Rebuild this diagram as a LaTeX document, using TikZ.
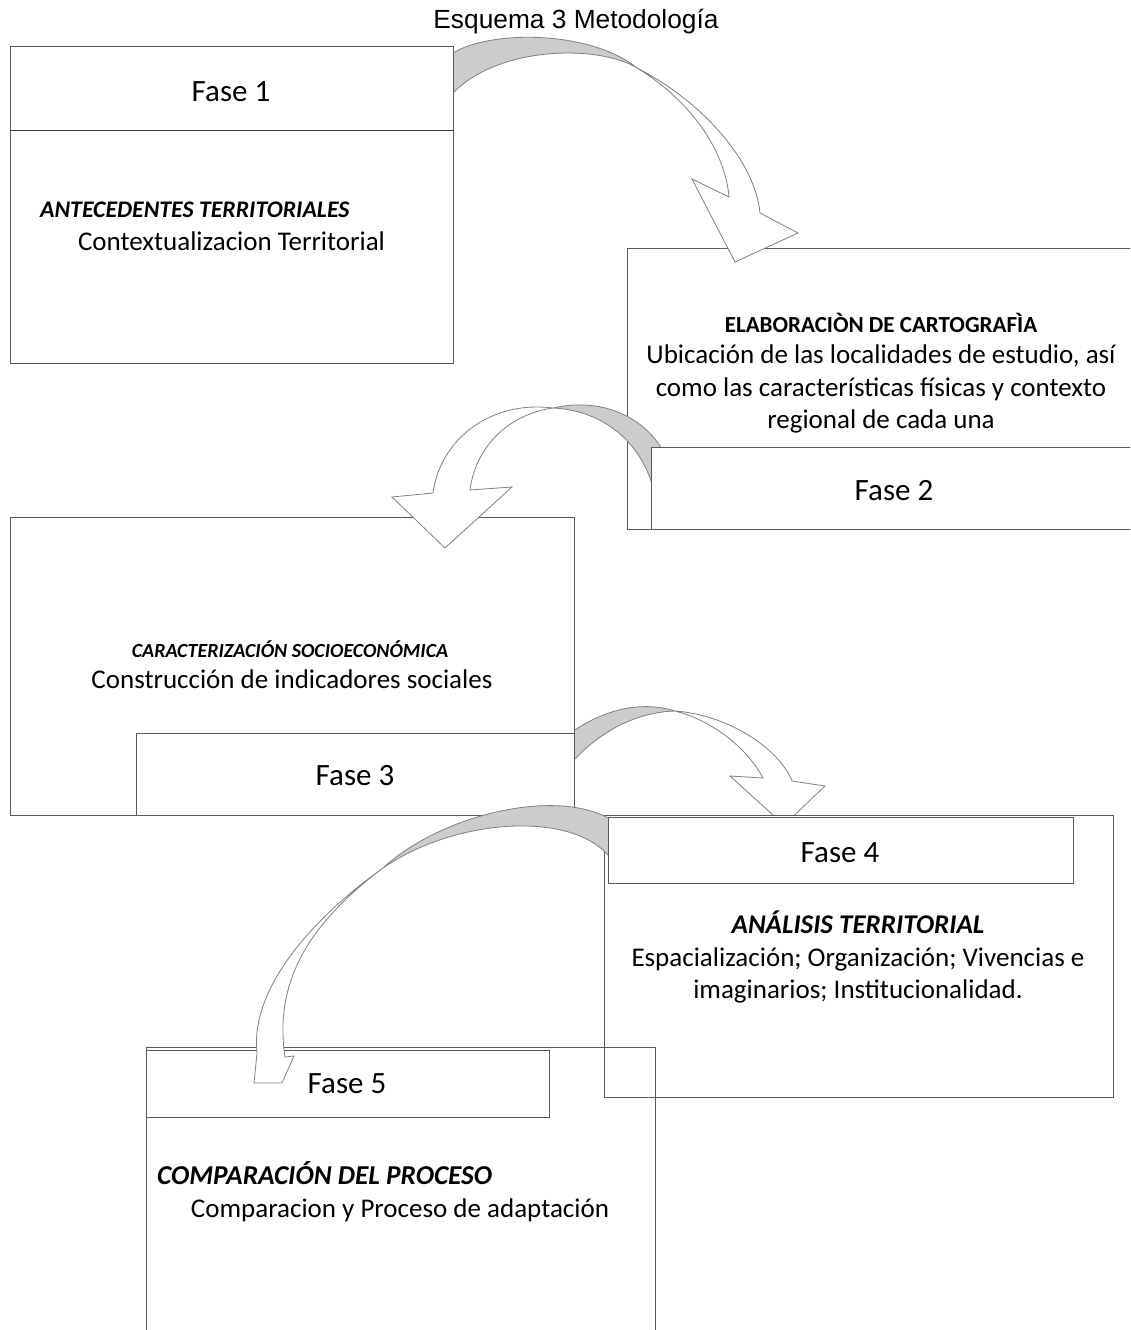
\documentclass[tikz,border=0pt]{standalone}
\usepackage{fontspec}
\setmainfont{Carlito}
\newfontfamily\titlefont{Liberation Sans}
\begin{document}
\begin{tikzpicture}[x=1pt,y=-1pt,
  boxline/.style={draw=black!65, line width=1pt, rectangle, inner sep=0pt},
  whitebox/.style={boxline, fill=white},
  arrowgray/.style={draw=black!50, line width=0.8pt, fill=black!20, line join=round},
  arrowwhite/.style={draw=black!50, line width=0.8pt, fill=white, line join=miter},
  fasetxt/.style={font=\fontsize{31}{36}\selectfont, anchor=base, inner sep=0pt},
  bodytxt/.style={font=\fontsize{27}{32}\selectfont, anchor=base, inner sep=0pt},
  headbi/.style={font=\fontsize{23.8}{28}\selectfont\bfseries\itshape, anchor=base west, inner sep=0pt},
  headb/.style={font=\fontsize{23}{26}\selectfont\bfseries, anchor=base, inner sep=0pt},
  headsmall/.style={font=\fontsize{20}{24}\selectfont\bfseries\itshape, anchor=base, inner sep=0pt},
  headbig/.style={font=\fontsize{27}{32}\selectfont\bfseries\itshape, anchor=base, inner sep=0pt},
  headbigw/.style={font=\fontsize{27.3}{32}\selectfont\bfseries\itshape, anchor=base west, inner sep=0pt},
  titletxt/.style={font=\titlefont\fontsize{26.3}{30}\selectfont, anchor=base, inner sep=0pt}
]
\useasboundingbox (0,0) rectangle (1130,1330);
\clip (0,0) rectangle (1130,1330);
\fill[white] (0,0) rectangle (1130,1330);

% Fase 2 outer box
\node[whitebox, minimum width=513pt, minimum height=281pt] (b2o) at (883.5,388.5) {};

% arrow 1
\path[arrowgray] (453,53) .. controls (490,30) and (590,30) .. (637,68)
  .. controls (600,45) and (500,45) .. (453,93) -- cycle;
\path[arrowwhite] (637,68) .. controls (700,100) and (755,160) .. (760,213)
  -- (798,233) -- (735,262) -- (692,179) -- (729,197)
  .. controls (725,150) and (690,100) .. (637,68) -- cycle;

% Fase 1 box
\node[whitebox, minimum width=443pt, minimum height=316pt] (b1) at (231.5,205) {};
\draw[draw=black!75, line width=1pt] (b1.west |- 0,130) -- (b1.east |- 0,130);

% arrow 3
\path[arrowgray] (565,737) .. controls (600,710) and (640,700) .. (675,711)
  .. controls (640,712) and (600,728) .. (565,770) -- cycle;
\path[arrowwhite] (675,711) .. controls (730,715) and (780,750) .. (792,781)
  -- (825,786) -- (784,825) -- (730,776) -- (763,778)
  .. controls (745,745) and (710,720) .. (675,711) -- cycle;

% Fase 4 outer box
\node[whitebox, minimum width=509pt, minimum height=282pt] (b4o) at (858.5,956) {};

% Fase 3 boxes
\node[whitebox, minimum width=564pt, minimum height=298pt] (b3o) at (292,666) {};
\node[boxline, minimum width=438pt, minimum height=82pt] (b3i) at (355,774) {};

% arrow 2
\path[arrowgray] (553,408) .. controls (610,395) and (655,425) .. (668,462)
  -- (656,500) .. controls (645,440) and (600,410) .. (553,408) -- cycle;
\path[arrowwhite] (553,408) .. controls (490,400) and (440,440) .. (433,493)
  -- (392,497) -- (445,548) -- (512,487) -- (470,490)
  .. controls (475,450) and (505,415) .. (553,408) -- cycle;

% Fase 2 inner box
\node[whitebox, minimum width=489pt, minimum height=82pt] (b2i) at (895.5,488) {};

% Fase 5 boxes
\node[boxline, minimum width=509pt, minimum height=293pt] (b5o) at (400.5,1193.5) {};
\node[boxline, minimum width=403pt, minimum height=67pt] (b5i) at (347.5,1083.5) {};

% arrow 4
\path[arrowgray] (383,868) .. controls (440,815) and (560,785) .. (615,822)
  -- (615,865) .. controls (585,810) and (460,815) .. (383,868) -- cycle;
\path[arrowwhite] (383,868) .. controls (310,920) and (250,990) .. (257,1053)
  -- (254,1083) -- (282,1083) -- (294,1056) -- (285,1057)
  .. controls (275,990) and (300,930) .. (383,868) -- cycle;

% Fase 4 inner box
\node[whitebox, minimum width=465pt, minimum height=66pt] (b4i) at (840.5,850) {};

% texts
\node[titletxt] (title) at (576,29) {Esquema 3 Metodología};

\node[fasetxt] (f1) at (231,101) {Fase 1};
\node[headbi] (h1) at (40,217) {ANTECEDENTES TERRITORIALES};
\node[bodytxt] (t1) at (231.5,250) {Contextualizacion Territorial};

\node[headb] (h2) at (881,332) {ELABORACIÒN DE CARTOGRAFÌA};
\node[bodytxt] (t2a) at (881,363) {Ubicación de las localidades de estudio, así};
\node[bodytxt] (t2b) at (881,396) {como las características físicas y contexto};
\node[bodytxt] (t2c) at (881,428) {regional de cada una};
\node[fasetxt] (f2) at (894,500) {Fase 2};

\node[headsmall] (h3) at (290,657) {CARACTERIZACIÓN SOCIOECONÓMICA};
\node[bodytxt] (t3) at (292,688) {Construcción de indicadores sociales};
\node[fasetxt] (f3) at (355,785) {Fase 3};

\node[fasetxt] (f4) at (840,862) {Fase 4};
\node[headbig] (h4) at (858,933) {ANÁLISIS TERRITORIAL};
\node[bodytxt] (t4a) at (858,966) {Espacialización; Organización; Vivencias e};
\node[bodytxt] (t4b) at (858,998) {imaginarios; Institucionalidad.};

\node[fasetxt] (f5) at (347,1093) {Fase 5};
\node[headbigw] (h5) at (157,1184) {COMPARACIÓN DEL PROCESO};
\node[bodytxt] (t5) at (400,1217) {Comparacion y Proceso de adaptación};
\end{tikzpicture}
\end{document}
